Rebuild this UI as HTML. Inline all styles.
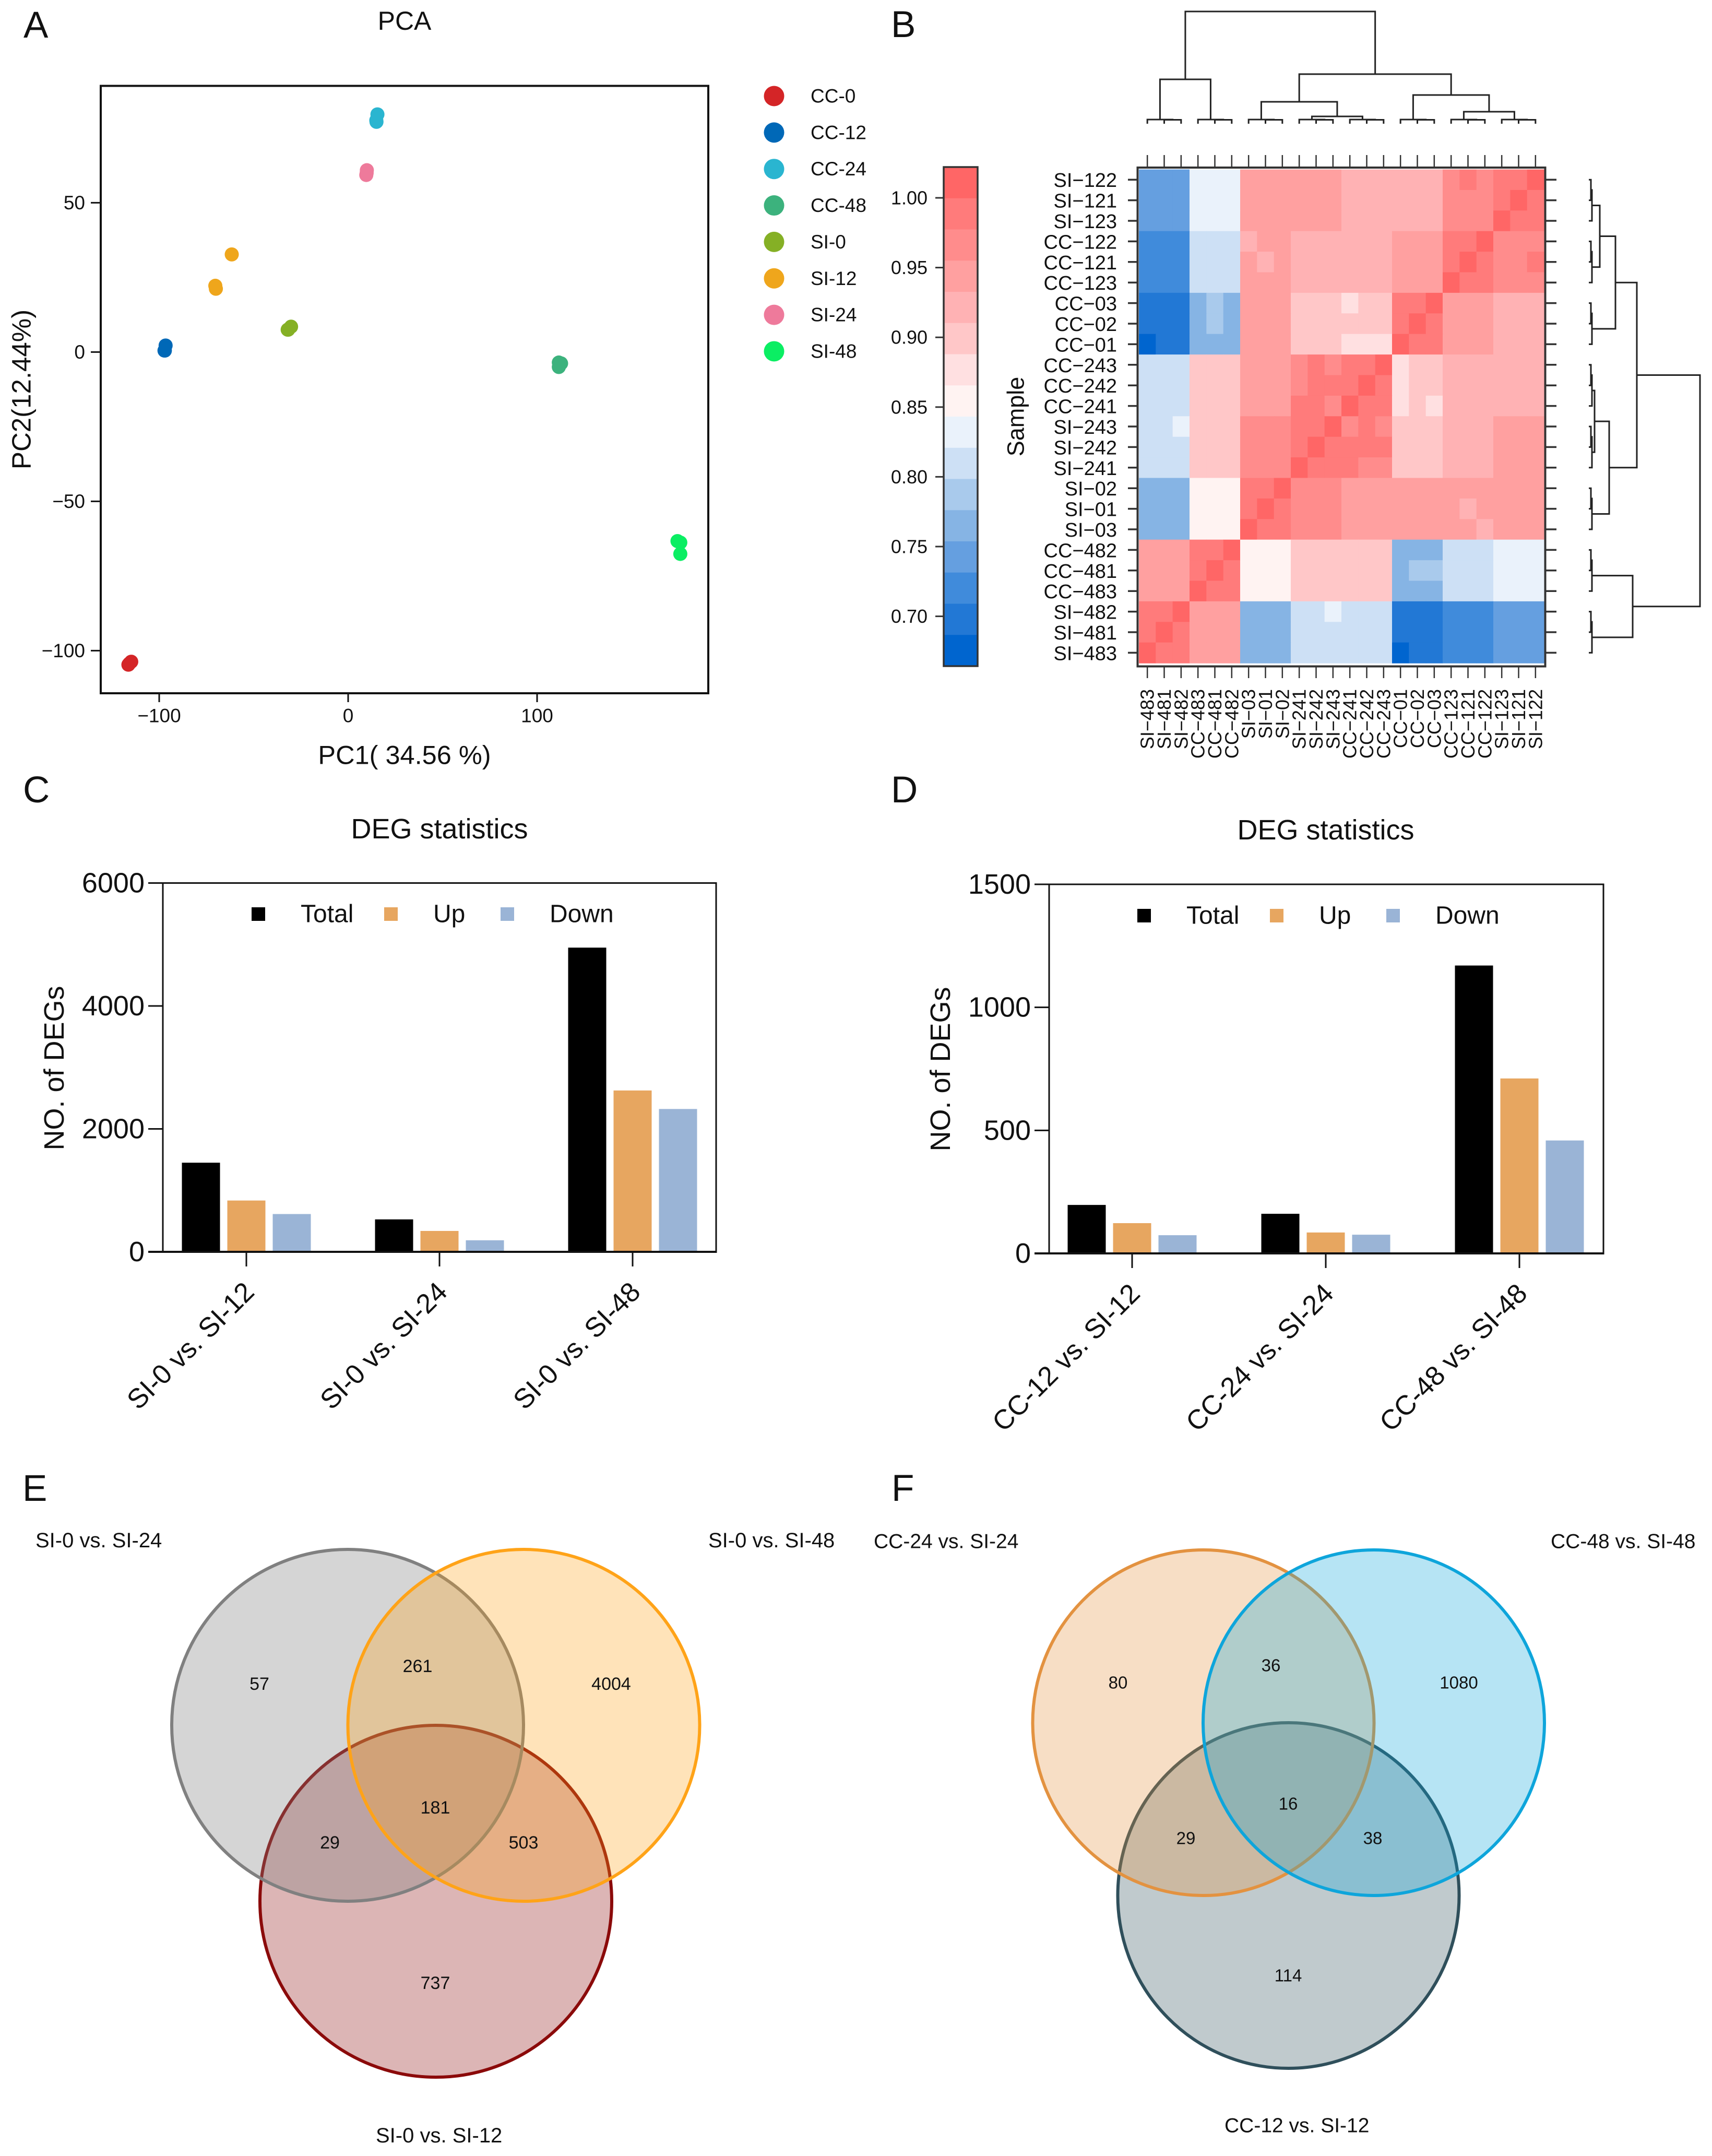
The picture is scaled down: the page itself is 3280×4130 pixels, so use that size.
<!DOCTYPE html>
<html lang="en">
<head>
<meta charset="utf-8">
<title>Transcriptome overview figure</title>
<style>
html,body{margin:0;padding:0;background:#fff;}
svg{display:block;}
text{font-family:"Liberation Sans",Arial,sans-serif;fill:#111;}
.mid{dominant-baseline:central;}
</style>
</head>
<body>
<svg id="fig" xmlns="http://www.w3.org/2000/svg" width="3280" height="4130" viewBox="0 0 3280 4130">
<rect x="0" y="0" width="3280" height="4130" fill="#fff"/>

<text x="45" y="72" font-size="71">A</text>
<text x="1707" y="71" font-size="71">B</text>
<text x="44" y="1537" font-size="71">C</text>
<text x="1707" y="1537" font-size="71">D</text>
<text x="43" y="2875" font-size="71">E</text>
<text x="1708" y="2875" font-size="71">F</text>

<g id="panelA">
  <text class="mid" x="775" y="40" font-size="50" text-anchor="middle">PCA</text>
  <text class="mid" x="775" y="1446" font-size="50.5" text-anchor="middle">PC1( 34.56 %)</text>
  <text class="mid" x="41" y="746" font-size="51" text-anchor="middle" transform="rotate(-90 41 746)">PC2(12.44%)</text>
  <rect x="193" y="164.5" width="1164" height="1163.5" fill="none" stroke="#111" stroke-width="4"/>
</g>

<g id="panelB">
  <text class="mid" x="1946" y="798" font-size="45" text-anchor="middle" transform="rotate(-90 1946 798)">Sample</text>
</g>

<g id="panelC">
  <text class="mid" x="842" y="1588" font-size="54" text-anchor="middle">DEG statistics</text>
  <text class="mid" x="104" y="2046" font-size="54" text-anchor="middle" transform="rotate(-90 104 2046)">NO. of DEGs</text>
</g>

<g id="panelD">
  <text class="mid" x="2540" y="1590" font-size="54" text-anchor="middle">DEG statistics</text>
  <text class="mid" x="1802" y="2048" font-size="54" text-anchor="middle" transform="rotate(-90 1802 2048)">NO. of DEGs</text>
</g>

<g id="panelE">
  <circle cx="835" cy="3642" r="337" fill="#8b0a0a" fill-opacity=".3" stroke="#8b0a0a" stroke-width="6"/>
  <circle cx="666" cy="3305" r="337" fill="#808080" fill-opacity=".33" stroke="#808080" stroke-width="6"/>
  <circle cx="1003.5" cy="3305" r="337" fill="#ffa318" fill-opacity=".3" stroke="#ffa318" stroke-width="6"/>
  <g font-size="34" text-anchor="middle">
    <text class="mid" x="497" y="3226">57</text>
    <text class="mid" x="800" y="3192">261</text>
    <text class="mid" x="1171" y="3226">4004</text>
    <text class="mid" x="834" y="3463">181</text>
    <text class="mid" x="632" y="3530">29</text>
    <text class="mid" x="1003" y="3530">503</text>
    <text class="mid" x="834" y="3799">737</text>
  </g>
  <g font-size="40">
    <text class="mid" x="68" y="2951">SI-0 vs. SI-24</text>
    <text class="mid" x="1357" y="2951">SI-0 vs. SI-48</text>
    <text class="mid" x="720" y="4091">SI-0 vs. SI-12</text>
  </g>
</g>

<g id="panelF">
  <ellipse cx="2468.5" cy="3631" rx="327" ry="331" fill="#2f4f5b" fill-opacity=".3" stroke="#2f4f5b" stroke-width="6"/>
  <ellipse cx="2305.5" cy="3300" rx="327" ry="331" fill="#e39240" fill-opacity=".3" stroke="#e39240" stroke-width="6"/>
  <ellipse cx="2632" cy="3300" rx="327" ry="331" fill="#0ea5db" fill-opacity=".3" stroke="#0ea5db" stroke-width="6"/>
  <g font-size="33" text-anchor="middle">
    <text class="mid" x="2142" y="3223">80</text>
    <text class="mid" x="2435" y="3190">36</text>
    <text class="mid" x="2795" y="3223">1080</text>
    <text class="mid" x="2468" y="3455">16</text>
    <text class="mid" x="2272" y="3521">29</text>
    <text class="mid" x="2630" y="3521">38</text>
    <text class="mid" x="2468" y="3784">114</text>
  </g>
  <g font-size="39">
    <text class="mid" x="1674" y="2953">CC-24 vs. SI-24</text>
    <text class="mid" x="2971" y="2953">CC-48 vs. SI-48</text>
    <text class="mid" x="2346" y="4072">CC-12 vs. SI-12</text>
  </g>
</g>
</svg>

<script>
/* ---------- PCA data ---------- */
const pcaGroups = ["CC-0","CC-12","CC-24","CC-48","SI-0","SI-12","SI-24","SI-48"];
const pcaPc1 = [
  [-116.3,-114.8,-115.8],
  [-97,-96.6,-97.2],
  [15.5,15,14.9],
  [111.5,112.7,111.5],
  [-31.7,-30.2,-32],
  [-61.6,-70.3,-70],
  [9.9,9.6,9.8],
  [174.3,175.8,175.8]
];
const pcaPc2 = [
  [-104.7,-103.7,-104.3],
  [0.5,2.2,0.5],
  [79.6,77.1,77.6],
  [-3.5,-3.8,-5],
  [7.5,8.5,7.5],
  [32.7,22.2,21.2],
  [60.9,59.3,60],
  [-63.3,-63.8,-67.6]
];
const pcaColors = ["#d42527","#0068b7","#2ab5d0","#3cb27d","#85b025","#efa61c","#ee7a9b","#0bee63"];
const pcaXTicks = [-100,0,100];
const pcaYTicks = [50,0,-50,-100];

/* ---------- Heatmap data ---------- */
const rowSamples = ["SI−122","SI−121","SI−123","CC−122","CC−121","CC−123","CC−03","CC−02","CC−01","CC−243","CC−242","CC−241","SI−243","SI−242","SI−241","SI−02","SI−01","SI−03","CC−482","CC−481","CC−483","SI−482","SI−481","SI−483"];
const colSamples = ["SI−483","SI−481","SI−482","CC−483","CC−481","CC−482","SI−03","SI−01","SI−02","SI−241","SI−242","SI−243","CC−241","CC−242","CC−243","CC−01","CC−02","CC−03","CC−123","CC−121","CC−122","SI−123","SI−121","SI−122"];
const correlationPct = [
 [74,74,74,83,83,83,94,94,94,94,94,94,92,92,92,92,92,92,97,99,97,99,99,100],
 [74,74,74,83,83,83,94,94,94,94,94,94,92,92,92,92,92,92,97,97,97,99,100,99],
 [74,74,74,83,83,83,94,94,94,94,94,94,92,92,92,92,92,92,97,97,97,100,99,99],
 [72,72,72,81,81,81,92,94,94,92,92,92,92,92,92,94,94,94,99,99,100,97,97,97],
 [72,72,72,81,81,81,94,92,94,92,92,92,92,92,92,94,94,94,99,100,99,97,97,99],
 [72,72,72,81,81,81,94,94,94,92,92,92,92,92,92,94,94,94,100,99,99,97,97,97],
 [70,70,70,76,79,76,94,94,94,90,90,90,88,90,90,99,99,100,94,94,94,92,92,92],
 [70,70,70,76,79,76,94,94,94,90,90,90,90,90,90,99,100,99,94,94,94,92,92,92],
 [68,70,70,76,76,76,94,94,94,90,90,90,88,88,88,100,99,99,94,94,94,92,92,92],
 [81,81,81,90,90,90,94,94,94,97,99,97,99,99,100,88,90,90,92,92,92,92,92,92],
 [81,81,81,90,90,90,94,94,94,97,99,99,99,100,99,88,90,90,92,92,92,92,92,92],
 [81,81,81,90,90,90,94,94,94,99,99,97,100,99,99,88,90,88,92,92,92,92,92,92],
 [81,81,83,90,90,90,97,97,97,99,99,100,97,99,97,90,90,90,92,92,92,94,94,94],
 [81,81,81,90,90,90,97,97,97,99,100,99,99,99,99,90,90,90,92,92,92,94,94,94],
 [81,81,81,90,90,90,97,97,97,100,99,99,99,97,97,90,90,90,92,92,92,94,94,94],
 [76,76,76,85,85,85,99,99,100,97,97,97,94,94,94,94,94,94,94,94,94,94,94,94],
 [76,76,76,85,85,85,99,100,99,97,97,97,94,94,94,94,94,94,94,92,94,94,94,94],
 [76,76,76,85,85,85,100,99,99,97,97,97,94,94,94,94,94,94,94,94,92,94,94,94],
 [94,94,94,99,99,100,85,85,85,90,90,90,90,90,90,76,76,76,81,81,81,83,83,83],
 [94,94,94,99,100,99,85,85,85,90,90,90,90,90,90,76,79,79,81,81,81,83,83,83],
 [94,94,94,100,99,99,85,85,85,90,90,90,90,90,90,76,76,76,81,81,81,83,83,83],
 [99,99,100,94,94,94,76,76,76,81,81,83,81,81,81,70,70,70,72,72,72,74,74,74],
 [99,100,99,94,94,94,76,76,76,81,81,81,81,81,81,70,70,70,72,72,72,74,74,74],
 [100,99,99,94,94,94,76,76,76,81,81,81,81,81,81,68,70,70,72,72,72,74,74,74]
];
const colorbarTicks = [1.00,0.95,0.90,0.85,0.80,0.75,0.70];
const colorbarPalette = ["#ff6666","#ff7b7b","#ff8c8c","#ffa0a0","#ffb2b4","#ffc7c8","#ffe0e1","#fff3f2","#eaf2fb","#cde0f5","#a9caec","#86b4e4","#659fe0","#408bdb","#2278d5","#0065cf"];
/* dendrograms: [merge distance, child, child]; integers are leaf indices */
const columnTree = [215,[85,[8,0,[7.5,1,2]],[8,3,[7.5,4,5]]],[95,[42,[8,6,[7.5,7,8]],[14,[8,9,[7.5,10,11]],[8,12,[7.5,13,14]]]],[55,[8,15,[7.5,16,17]],[23,[8,18,[7.5,19,20]],[8,21,[7.5,22,23]]]]]];
const rowTree = [213,[92,[51,[21,[6,[4,0,1],2],[6,[4,3,4],5]],[6,[4,6,7],8]],[39,[11,[6,[4,9,10],11],[6,[4,12,13],14]],[6,[4,15,16],17]]],[84,[6,[4,18,19],20],[6,[4,21,22],23]]];

/* ---------- Bar chart data ---------- */
const degSeries = ["Total","Up","Down"];
const siCategories = ["SI-0 vs. SI-12","SI-0 vs. SI-24","SI-0 vs. SI-48"];
const siTotal = [1450,528,4949];
const siUp = [835,340,2625];
const siDown = [615,188,2324];
const siTicks = [0,2000,4000,6000];
const ccCategories = ["CC-12 vs. SI-12","CC-24 vs. SI-24","CC-48 vs. SI-48"];
const ccTotal = [197,161,1170];
const ccUp = [123,85,711];
const ccDown = [74,76,459];
const ccTicks = [0,500,1000,1500];
const seriesColors = ["#000000","#e7a660","#9ab4d6"];

/* ---------- helpers ---------- */
const NS = "http://www.w3.org/2000/svg";
function mk(parent, tag, attrs, txt){
  const e = document.createElementNS(NS, tag);
  for (const k in attrs) e.setAttribute(k, attrs[k]);
  if (txt !== undefined) e.textContent = txt;
  parent.appendChild(e);
  return e;
}
const panelA = document.getElementById("panelA");
const panelB = document.getElementById("panelB");

/* ---------- Panel A: PCA ---------- */
const pcaX = v => 667 + 3.62 * v;
const pcaY = v => 674.4 - 5.72 * v;
pcaXTicks.forEach(v => {
  const t = mk(panelA,"line",{x1:pcaX(v),x2:pcaX(v),y1:1328,y2:1345,stroke:"#111","stroke-width":3});
  
  
  const l = mk(panelA,"text",{x:pcaX(v),y:1371,"font-size":37,"text-anchor":"middle","class":"mid"},String(v).replace("-","−"));
  
  
});
pcaYTicks.forEach(v => {
  const t = mk(panelA,"line",{x1:174,x2:193,y1:pcaY(v),y2:pcaY(v),stroke:"#111","stroke-width":3});
  
  
  const l = mk(panelA,"text",{x:163,y:pcaY(v),"font-size":37,"text-anchor":"end","class":"mid"},String(v).replace("-","−"));
  
  
});
pcaGroups.forEach((g,i) => {
  pcaPc1[i].forEach((v,j) => {
    const c = mk(panelA,"circle",{cx:pcaX(v),cy:pcaY(pcaPc2[i][j]),r:13.5,fill:pcaColors[i]});
    
    
  });
  const ly = 184 + i * 69.85;
  const s = mk(panelA,"circle",{cx:1483,cy:ly,r:19.5,fill:pcaColors[i]});
  
  
  const t = mk(panelA,"text",{x:1553,y:ly,"font-size":37,"class":"mid"},g);
  
  
});

/* ---------- Panel B: heatmap ---------- */
const cellW = (2958 - 2182) / 24, cellH = 39.4, heatL = 2182, heatT = 324.5;
const colX = i => heatL + cellW * (i + .5);
const rowY = i => heatT + cellH * (i + .5);
const cbTop = 320, cbBottom = 1276;
const cbY = v => 379 + (1 - v) * 2672;
const cbStep = (cbBottom - cbTop) / colorbarPalette.length;
const levelOf = v => Math.min(colorbarPalette.length - 1, Math.max(0, Math.floor((cbY(v) - cbTop) / cbStep)));

correlationPct.forEach((row,r) => row.forEach((p,c) => {
  const cell = mk(panelB,"rect",{x:heatL + c*cellW,y:heatT + r*cellH,width:cellW+.6,height:cellH+.6,fill:colorbarPalette[levelOf(p/100)]});
  
  
}));
const heatFrame = mk(panelB,"rect",{x:2179.5,y:321,width:781,height:955.5,fill:"none",stroke:"#333","stroke-width":4});



rowSamples.forEach((s,i) => {
  const y = rowY(i);
  const a = mk(panelB,"line",{x1:2161,x2:2180,y1:y,y2:y,stroke:"#333","stroke-width":3.5});
  
  
  const b = mk(panelB,"line",{x1:2960,x2:2982,y1:y,y2:y,stroke:"#333","stroke-width":3.5});
  
  
  const l = mk(panelB,"text",{x:2140,y:y+2,"font-size":38,"text-anchor":"end","class":"mid"},s);
  
  
});
colSamples.forEach((s,i) => {
  const x = colX(i);
  const a = mk(panelB,"line",{x1:x,x2:x,y1:297,y2:321,stroke:"#333","stroke-width":2.5});
  
  
  const b = mk(panelB,"line",{x1:x,x2:x,y1:1276,y2:1299,stroke:"#333","stroke-width":2.5});
  
  
  const l = mk(panelB,"text",{x:x,y:1320,"font-size":36,"text-anchor":"end","class":"mid",transform:`rotate(-90 ${x} 1320)`},s);
  
  
});

/* colour bar */
colorbarPalette.forEach((c,i) => {
  const r = mk(panelB,"rect",{x:1808,y:cbTop + i*cbStep,width:65,height:cbStep+.5,fill:c});
  
  
});
const cbFrame = mk(panelB,"rect",{x:1808,y:cbTop,width:65,height:cbBottom-cbTop,fill:"none",stroke:"#333","stroke-width":3.5});


colorbarTicks.forEach(v => {
  const t = mk(panelB,"line",{x1:1792,x2:1808,y1:cbY(v),y2:cbY(v),stroke:"#333","stroke-width":3});
  
  
  const l = mk(panelB,"text",{x:1777,y:cbY(v),"font-size":36,"text-anchor":"end","class":"mid"},v.toFixed(2));
  
  
});

/* dendrograms */
function drawTree(node, leafPos, place, name){
  if (typeof node === "number") return {p:leafPos(node), h:0};
  const a = drawTree(node[1], leafPos, place, name);
  const b = drawTree(node[2], leafPos, place, name);
  const h = node[0];
  const pts = [place(a.p,a.h),place(a.p,h),place(b.p,h),place(b.p,b.h)].map(q => q.join(",")).join(" ");
  const u = mk(panelB,"polyline",{points:pts,fill:"none",stroke:"#222","stroke-width":3});
  
  
  return {p:(a.p+b.p)/2, h:h};
}
drawTree(columnTree, colX, (p,h) => [p, 237 - h], "column-dendrogram-link");
drawTree(rowTree, rowY, (p,h) => [3044 + h, p], "row-dendrogram-link");

/* ---------- Panels C, D: bars ---------- */
function drawBars(panelId, o){
  const g = document.getElementById(panelId);
  const y = v => o.bottom - v / o.max * (o.bottom - o.top);
  o.ticks.forEach(v => {
    const t = mk(g,"line",{x1:o.left-28,x2:o.left,y1:y(v),y2:y(v),stroke:"#111","stroke-width":3});
    
    
    const l = mk(g,"text",{x:o.left-35,y:y(v),"font-size":54,"text-anchor":"end","class":"mid"},String(v));
    
    
  });
  o.categories.forEach((c,i) => {
    const cx = o.first + i * o.spacing;
    [o.total,o.up,o.down].forEach((arr,s) => {
      const bx = cx + (s-1)*87 - 36.5;
      const r = mk(g,"rect",{x:bx,y:y(arr[i]),width:73,height:o.bottom - y(arr[i]),fill:seriesColors[s]});
      
      
    });
    const t = mk(g,"line",{x1:cx,x2:cx,y1:o.bottom,y2:o.bottom+28,stroke:"#111","stroke-width":3});
    
    
    const ax = cx + 18, ay = o.bottom + 80;
    const l = mk(g,"text",{x:ax,y:ay,"font-size":52.5,"text-anchor":"end",transform:`rotate(-45 ${ax} ${ay})`},c);
    
    
  });
  const box = mk(g,"polyline",{points:`${o.left},${o.bottom} ${o.left},${o.top} ${o.right},${o.top} ${o.right},${o.bottom}`,fill:"none",stroke:"#111","stroke-width":3});
  
  
  const base = mk(g,"line",{x1:o.left-28,x2:o.right+1.5,y1:o.bottom,y2:o.bottom,stroke:"#111","stroke-width":4});
  
  
  degSeries.forEach((s,i) => {
    const sw = mk(g,"rect",{x:o.legendX[i],y:o.legendY-13,width:26,height:26,fill:seriesColors[i]});
    
    
    const l = mk(g,"text",{x:o.legendTextX[i],y:o.legendY,"font-size":48,"class":"mid"},s);
    
    
  });
}
drawBars("panelC",{left:312,right:1372,top:1691.5,bottom:2398,max:6000,ticks:siTicks,categories:siCategories,total:siTotal,up:siUp,down:siDown,first:472,spacing:370,legendX:[482,736,959],legendTextX:[576,830,1053],legendY:1751});
drawBars("panelD",{left:2010,right:3072,top:1694,bottom:2401,max:1500,ticks:ccTicks,categories:ccCategories,total:ccTotal,up:ccUp,down:ccDown,first:2169,spacing:371,legendX:[2179,2433,2656],legendTextX:[2273,2527,2750],legendY:1754});
</script>
</body>
</html>
